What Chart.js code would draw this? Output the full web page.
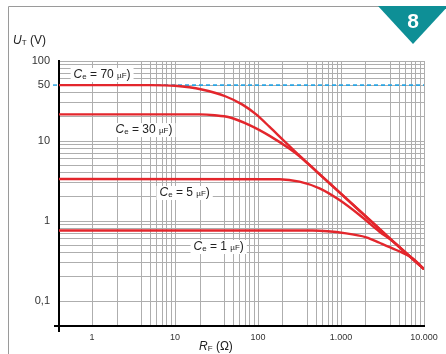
<!DOCTYPE html>
<html>
<head>
<meta charset="utf-8">
<script src="https://cdn.jsdelivr.net/npm/chart.js@4.4.0/dist/chart.umd.min.js"></script>
<style>
  html, body { margin: 0; padding: 0; background: #fff; }
</style>
</head>
<body>
<canvas id="ut-chart" width="446" height="354"></canvas>
<script>
const rF70 = [0.4, 5, 10, 21, 41, 65, 95, 138, 197, 316, 500, 1000, 2000, 4000, 10000];
const ut70 = [50, 50, 49, 44, 36, 28.5, 21.5, 15.0, 10.5, 6.55, 4.23, 2.2, 1.14, 0.59, 0.25];

const rF30 = [0.4, 20, 30, 45, 79, 138, 240, 316, 500, 1000, 2000, 4000, 10000];
const ut30 = [21.5, 21.5, 21, 19.8, 15.8, 11.6, 8.0, 6.45, 4.2, 2.18, 1.13, 0.585, 0.25];

const rF5 = [0.4, 182, 316, 551, 959, 1670, 2911, 4170, 10000];
const ut5 = [3.35, 3.33, 3.1, 2.56, 1.83, 1.19, 0.735, 0.56, 0.25];

const rF1 = [0.4, 454, 1155, 2012, 2911, 4624, 7265, 10000];
const ut1 = [0.76, 0.76, 0.70, 0.626, 0.535, 0.434, 0.342, 0.25];

// 50 V limit (dashed)
const limitR = [0.4, 10000];
const limitU = [50, 50];

// tick labels
const xTickValues = [1, 10, 100, 1000, 10000];
const xTickLabels = ['1', '10', '100', '1.000', '10.000'];
const yTickValues = [0.1, 1, 10, 50, 100];
const yTickLabels = ['0,1', '1', '10', '50', '100'];

// grid multiples per decade
const xGridSteps = [1, 2, 4, 5, 6, 7, 8, 9];
const yGridSteps = [1, 2, 3, 4, 5, 6, 7, 8, 9];

// curve labels (capacity in µF) and where they sit (R, U)
const ceValues = ['70', '30', '5', '1'];
const ceLabelR = [0.6, 1.92, 6.5, 16.7];
const ceLabelU = [66.8, 13.7, 2.24, 0.473];

function toPoints(xs, ys) {
  return xs.map((x, i) => ({ x: x, y: ys[i] }));
}

function gridValues(steps, fromExp, toExp) {
  let vals = [];
  for (let e = fromExp; e < toExp; e++) {
    steps.forEach(s => vals.push(+(s * Math.pow(10, e)).toPrecision(6)));
  }
  vals.push(Math.pow(10, toExp));
  return vals;
}

function labelFor(value, vals, labels) {
  for (let i = 0; i < vals.length; i++) {
    if (Math.abs(value / vals[i] - 1) < 1e-6) return labels[i];
  }
  return '';
}

const red = '#e3262c';
const gridColor = '#aeaeae';
const font = "'Liberation Sans', Arial, sans-serif";

function redLine(xs, ys) {
  return {
    data: toPoints(xs, ys),
    borderColor: red,
    borderWidth: 2.4,
    pointRadius: 0,
    cubicInterpolationMode: 'monotone',
    fill: false,
    order: 1
  };
}

// frame, badge, titles, labels
const decorPlugin = {
  id: 'decor',
  afterDraw(chart) {
    const ctx = chart.ctx;
    const xs = chart.scales.x;
    const ys = chart.scales.y;
    const area = chart.chartArea;
    ctx.save();

    // outer frame
    ctx.strokeStyle = '#9a9a9a';
    ctx.lineWidth = 1;
    ctx.beginPath();
    ctx.moveTo(8.5, 354);
    ctx.lineTo(8.5, 6.5);
    ctx.lineTo(380, 6.5);
    ctx.stroke();

    // badge
    ctx.fillStyle = '#0e8f96';
    ctx.beginPath();
    ctx.moveTo(378, 6);
    ctx.lineTo(448, 6);
    ctx.lineTo(413, 44);
    ctx.closePath();
    ctx.fill();
    ctx.fillStyle = '#fff';
    ctx.font = 'bold 21px ' + font;
    ctx.textAlign = 'center';
    ctx.textBaseline = 'middle';
    ctx.fillText('8', 413, 22);

    // axis overhangs
    ctx.strokeStyle = '#000';
    ctx.lineWidth = 2;
    ctx.beginPath();
    ctx.moveTo(area.left, area.bottom);
    ctx.lineTo(area.left, area.bottom + 6);
    ctx.moveTo(area.left, area.bottom);
    ctx.lineTo(area.left - 5, area.bottom);
    ctx.stroke();

    // blue tick at 50 V
    const y50 = ys.getPixelForValue(50);
    ctx.strokeStyle = '#2aa4e2';
    ctx.lineWidth = 1.5;
    ctx.beginPath();
    ctx.moveTo(area.left - 6, y50);
    ctx.lineTo(area.left - 2, y50);
    ctx.stroke();

    // axis titles with subscripts
    ctx.fillStyle = '#222';
    ctx.textAlign = 'left';
    ctx.textBaseline = 'alphabetic';
    drawSub(ctx, 13, 44, 'U', 'T', ' (V)', 12);
    drawSub(ctx, 199, 350, 'R', 'F', ' (Ω)', 12);

    // Ce labels
    for (let i = 0; i < ceValues.length; i++) {
      const px = xs.getPixelForValue(ceLabelR[i]);
      const py = ys.getPixelForValue(ceLabelU[i]);
      drawCe(ctx, px, py, ceValues[i]);
    }
    ctx.restore();
  }
};

function drawSub(ctx, x, y, main, sub, rest, size) {
  ctx.font = 'italic ' + size + 'px ' + font;
  ctx.fillText(main, x, y);
  x += ctx.measureText(main).width;
  ctx.font = (size - 4) + 'px ' + font;
  ctx.fillText(sub, x, y + 1);
  x += ctx.measureText(sub).width;
  ctx.font = size + 'px ' + font;
  ctx.fillText(rest, x, y);
}

function drawCe(ctx, x, y, value) {
  const parts = [
    { t: 'C', f: 'italic 12px ' + font, dy: 0 },
    { t: 'e', f: '8px ' + font, dy: 2 },
    { t: ' = ' + value + ' ', f: '12px ' + font, dy: 0 },
    { t: 'µF', f: '8px ' + font, dy: 1 },
    { t: ')', f: '12px ' + font, dy: 0 }
  ];
  let w = 0;
  parts.forEach(p => { ctx.font = p.f; w += ctx.measureText(p.t).width; });
  ctx.fillStyle = '#fff';
  ctx.fillRect(x - 3, y - 7, w + 6, 14);
  ctx.fillStyle = '#222';
  ctx.textBaseline = 'middle';
  ctx.textAlign = 'left';
  let cx = x;
  parts.forEach(p => {
    ctx.font = p.f;
    ctx.fillText(p.t, cx, y + p.dy);
    cx += ctx.measureText(p.t).width;
  });
}

const xGrid = gridValues(xGridSteps, 0, 4);
const yGrid = gridValues(yGridSteps, -1, 2);

const ctxChart = document.getElementById('ut-chart');
const utChart = new Chart(ctxChart, {
  type: 'line',
  data: {
    datasets: [
      redLine(rF70, ut70),
      redLine(rF30, ut30),
      redLine(rF5, ut5),
      redLine(rF1, ut1),
      {
        data: toPoints(limitR, limitU),
        borderColor: '#2aa4e2',
        borderWidth: 1.6,
        borderDash: [4, 3],
        pointRadius: 0,
        fill: false,
        order: 5
      }
    ]
  },
  options: {
    responsive: false,
    animation: false,
    devicePixelRatio: 1,
    layout: {
      padding: { top: 61, right: 22, left: 0, bottom: 0 }
    },
    plugins: {
      legend: { display: false },
      tooltip: { enabled: false }
    },
    scales: {
      x: {
        type: 'logarithmic',
        min: 0.4,
        max: 10000,
        afterBuildTicks: scale => { scale.ticks = xGrid.map(v => ({ value: v })); },
        afterFit: scale => { scale.height = 28; },
        grid: { color: gridColor, lineWidth: 1, drawTicks: false },
        border: { color: '#000', width: 2 },
        ticks: {
          autoSkip: false,
          maxRotation: 0,
          padding: 6,
          color: '#333',
          font: { family: font, size: 9 },
          callback: value => labelFor(value, xTickValues, xTickLabels)
        }
      },
      y: {
        type: 'logarithmic',
        min: 0.0487,
        max: 100,
        afterBuildTicks: scale => { scale.ticks = yGrid.map(v => ({ value: v })); },
        afterFit: scale => { scale.width = 59; },
        grid: { color: gridColor, lineWidth: 1, drawTicks: false },
        border: { color: '#000', width: 2 },
        ticks: {
          autoSkip: false,
          padding: 9,
          color: '#333',
          font: { family: font, size: 11 },
          callback: value => labelFor(value, yTickValues, yTickLabels)
        }
      }
    }
  },
  plugins: [decorPlugin]
});
</script>
</body>
</html>
